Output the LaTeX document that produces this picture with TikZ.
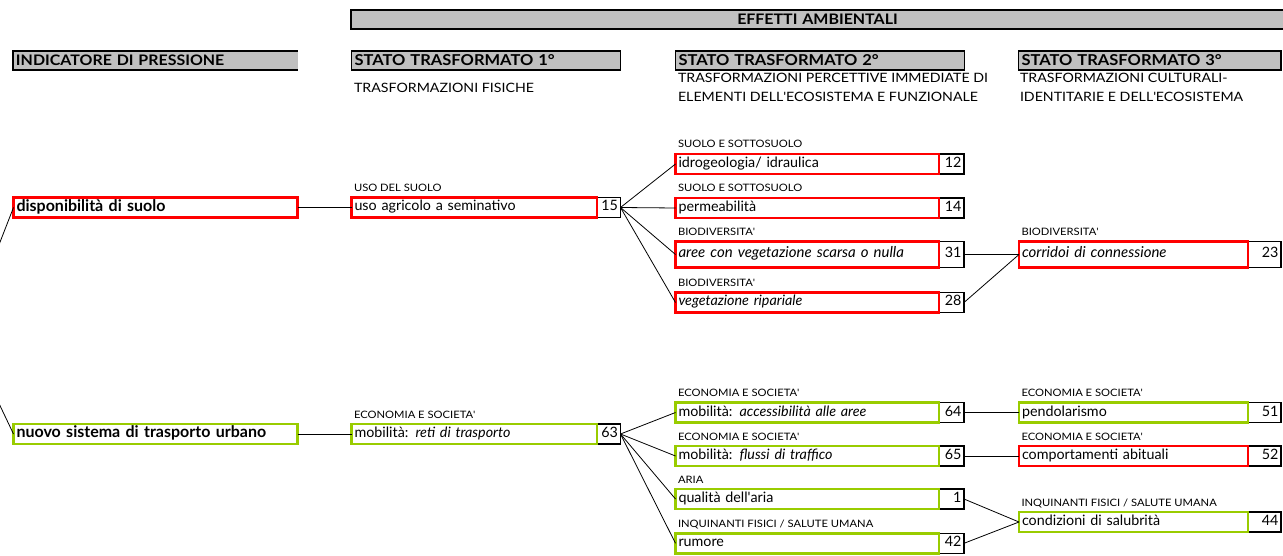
\documentclass[tikz,border=0pt]{standalone}
\usepackage{fontspec}
\setmainfont{Lato}
\newfontfamily\capsfont{Lato}[FakeStretch=1.1]
\usetikzlibrary{positioning}
\definecolor{hdrgrey}{HTML}{C0C0C0}
\definecolor{boxred}{HTML}{FF0000}
\definecolor{boxgreen}{HTML}{99CC00}

\begin{document}
\begin{tikzpicture}[
			x=1pt, y=1pt,
			every node/.style={outer sep=0pt},
			hdr/.style={rectangle, draw, fill=hdrgrey, line width=1.6pt, minimum height=19pt, inner xsep=3pt, inner ysep=0pt, text height=10.8pt, text depth=0pt, text width=#1, align=left, font=\capsfont\bfseries\fontsize{15}{17}\selectfont},
			sub/.style={inner sep=0pt, anchor=north west, align=left, font=\capsfont\fontsize{12.9}{19}\selectfont},
			box/.style={rectangle, line width=2.8pt, minimum height=20pt, inner xsep=3pt, inner ysep=0pt, text height=10.5pt, text depth=3.5pt, text width=#1, align=left, font=\fontsize{14.3}{16}\selectfont},
			redbox/.style={box=#1, draw=boxred},
			greenbox/.style={box=#1, draw=boxgreen},
			numbox/.style={rectangle, draw, line width=1.6pt, minimum height=20pt, inner xsep=2.5pt, inner ysep=0pt, text height=10.5pt, text depth=3.5pt, text width=#1, align=right, font=\fontsize{14.3}{16}\selectfont},
			cat/.style={inner sep=0pt, anchor=base west, font=\capsfont\fontsize{10.2}{12}\selectfont},
			link/.style={line width=0.8pt}
			]
			\useasboundingbox (0,0) rectangle (1283,555);
			\clip (0,0) rectangle (1283,555);
			
			\node[hdr=927pt, align=center, anchor=west, text height=10.4pt, font=\capsfont\bfseries\fontsize{14.5}{16}\selectfont] (eff) at (351,535.4) {EFFETTI AMBIENTALI};
			\node[hdr=278.5pt, draw=none, anchor=west, text height=10.4pt, font=\capsfont\bfseries\fontsize{14.5}{16}\selectfont] (ind) at (13,494.5) {INDICATORE DI PRESSIONE};
			\draw[line width=1.6pt] (ind.north east) -- (ind.north west) -- (ind.south west) -- (ind.south east);
			\node[hdr=263pt, anchor=west] (st1) at (351.5,494.5) {STATO TRASFORMATO 1°};
			\node[hdr=283pt, anchor=west] (st2) at (675.5,494.5) {STATO TRASFORMATO 2°};
			\node[hdr=256.5pt, anchor=west] (st3) at (1018.5,494.5) {STATO TRASFORMATO 3°};
			\node[sub] (sub1) at (354,471.8) {TRASFORMAZIONI FISICHE};
			\node[sub] (sub2) at (678,481.8) {TRASFORMAZIONI PERCETTIVE IMMEDIATE DI\\ELEMENTI DELL\textquotesingle ECOSISTEMA E FUNZIONALE};
			\node[sub] (sub3) at (1020,481.8) {TRASFORMAZIONI CULTURALI-\\IDENTITARIE E DELL\textquotesingle ECOSISTEMA};
			
			\node[redbox=278pt, anchor=west, text height=11.5pt, text depth=4pt, font=\bfseries\fontsize{16}{18}\selectfont] (disp) at (13.5,347.5) {disponibilità di suolo};
			\node[numbox=18.5pt, anchor=east] (n15) at (620.5,347.5) {15};
			\node[redbox=239.5pt, left=0pt of n15] (uso) {uso agricolo a seminativo};
			\node[numbox=20pt, anchor=east] (n12) at (964,391) {12};
			\node[redbox=257.5pt, left=0pt of n12] (idro) {idrogeologia/ idraulica};
			\node[numbox=20pt, anchor=east] (n14) at (964,347) {14};
			\node[redbox=257.5pt, left=0pt of n14] (perm) {permeabilità};
			\node[numbox=20pt, anchor=east, minimum height=26pt] (n31) at (964,300.5) {31};
			\node[redbox=257.5pt, left=0pt of n31, minimum height=26pt, font=\fontsize{15}{17}\selectfont] (aree) {\textit{aree con vegetazione scarsa o nulla}};
			\node[numbox=20pt, anchor=east] (n28) at (964,252.5) {28};
			\node[redbox=257.5pt, left=0pt of n28] (veg) {\textit{vegetazione ripariale}};
			\node[numbox=28pt, anchor=east, minimum height=26pt] (n23) at (1281,300.5) {23};
			\node[redbox=223pt, left=0pt of n23, minimum height=26pt, font=\fontsize{15}{17}\selectfont] (corr) {\textit{corridoi di connessione}};
			
			\node[greenbox=278pt, anchor=west, text height=11.5pt, text depth=4pt, font=\bfseries\fontsize{16}{18}\selectfont] (nuovo) at (13.5,121) {nuovo sistema di trasporto urbano};
			\node[numbox=18.5pt, anchor=east] (n63) at (620.5,121) {63};
			\node[greenbox=239.5pt, left=0pt of n63] (reti) {mobilità: \textit{reti di trasporto}};
			\node[numbox=20pt, anchor=east] (n64) at (964,142.5) {64};
			\node[greenbox=257.5pt, left=0pt of n64] (access) {mobilità: \textit{accessibilità alle aree}};
			\node[numbox=20pt, anchor=east] (n65) at (964,99) {65};
			\node[greenbox=257.5pt, left=0pt of n65] (flussi) {mobilità: \textit{flussi di traffico}};
			\node[numbox=20pt, anchor=east] (n1) at (964,56) {1};
			\node[greenbox=257.5pt, left=0pt of n1] (qual) {qualità dell\textquotesingle aria};
			\node[numbox=20pt, anchor=east] (n42) at (964,11.7) {42};
			\node[greenbox=257.5pt, left=0pt of n42] (rumore) {rumore};
			\node[numbox=28pt, anchor=east] (n51) at (1281,142.5) {51};
			\node[greenbox=223pt, left=0pt of n51] (pend) {pendolarismo};
			\node[numbox=28pt, anchor=east] (n52) at (1281,99) {52};
			\node[redbox=223pt, left=0pt of n52] (comp) {comportamenti abituali};
			\node[numbox=28pt, anchor=east] (n44) at (1281,33) {44};
			\node[greenbox=223pt, left=0pt of n44] (cond) {condizioni di salubrità};
			
			\node[cat] (c_uso) at ([shift={(2.5,6)}]uso.north west) {USO DEL SUOLO};
			\node[cat] (c_idro) at ([shift={(2.5,6)}]idro.north west) {SUOLO E SOTTOSUOLO};
			\node[cat] (c_perm) at ([shift={(2.5,6)}]perm.north west) {SUOLO E SOTTOSUOLO};
			\node[cat] (c_aree) at ([shift={(2.5,6)}]aree.north west) {BIODIVERSITA\textquotesingle};
			\node[cat] (c_veg) at ([shift={(2.5,6)}]veg.north west) {BIODIVERSITA\textquotesingle};
			\node[cat] (c_corr) at ([shift={(2.5,6)}]corr.north west) {BIODIVERSITA\textquotesingle};
			\node[cat] (c_reti) at ([shift={(2.5,6)}]reti.north west) {ECONOMIA E SOCIETA\textquotesingle};
			\node[cat] (c_access) at ([shift={(2.5,6)}]access.north west) {ECONOMIA E SOCIETA\textquotesingle};
			\node[cat] (c_flussi) at ([shift={(2.5,6)}]flussi.north west) {ECONOMIA E SOCIETA\textquotesingle};
			\node[cat] (c_qual) at ([shift={(2.5,6)}]qual.north west) {ARIA};
			\node[cat] (c_rumore) at ([shift={(2.5,6)}]rumore.north west) {INQUINANTI FISICI / SALUTE UMANA};
			\node[cat] (c_pend) at ([shift={(2.5,6)}]pend.north west) {ECONOMIA E SOCIETA\textquotesingle};
			\node[cat] (c_comp) at ([shift={(2.5,6)}]comp.north west) {ECONOMIA E SOCIETA\textquotesingle};
			\node[cat] (c_cond) at ([shift={(2.5,6)}]cond.north west) {INQUINANTI FISICI / SALUTE UMANA};
			
			\coordinate (src) at (-35,223);
			\draw[link] (src) -- (disp.west);
			\draw[link] (src) -- (nuovo.west);
			\draw[link] (disp.east) -- (uso.west);
			\draw[link] (n15.east) -- (idro.west);
			\draw[link] (n15.east) -- (perm.west);
			\draw[link] (n15.east) -- (aree.west);
			\draw[link] (n15.east) -- (veg.west);
			\draw[link] (n31.east) -- (corr.west);
			\draw[link] (n28.east) -- (corr.west);
			\draw[link] (nuovo.east) -- (reti.west);
			\draw[link] (n63.east) -- (access.west);
			\draw[link] (n63.east) -- (flussi.west);
			\draw[link] (n63.east) -- (qual.west);
			\draw[link] (n63.east) -- (rumore.west);
			\draw[link] (n64.east) -- (pend.west);
			\draw[link] (n65.east) -- (comp.west);
			\draw[link] (n1.east) -- (cond.west);
			\draw[link] (n42.east) -- (cond.west);
		\end{tikzpicture}
\end{document}
